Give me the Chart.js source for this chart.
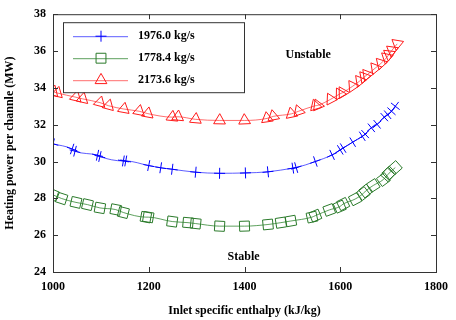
<!DOCTYPE html>
<html>
<head>
<meta charset="utf-8">
<script src="https://cdn.jsdelivr.net/npm/chart.js@4/dist/chart.umd.min.js"></script>
<style>
  html, body { margin: 0; padding: 0; background: #fff; }
  #wrap { width: 456px; height: 320px; }
</style>
</head>
<body>
<div id="wrap"><canvas id="chart"></canvas></div>
<script>
// Series data (inlet enthalpy kJ/kg, heating power MW)
const labels = ['1976.0 kg/s', '1778.4 kg/s', '2173.6 kg/s'];

const blueH = [1000, 1040, 1046, 1093, 1098, 1147, 1152, 1200, 1225, 1249, 1298, 1348, 1402, 1449, 1501, 1508, 1548, 1583, 1600, 1606, 1626, 1646, 1652, 1665, 1677, 1692, 1699, 1707, 1715];
const blueP = [30.96, 30.68, 30.56, 30.34, 30.27, 30.03, 30.03, 29.78, 29.66, 29.58, 29.42, 29.36, 29.38, 29.44, 29.64, 29.67, 30.0, 30.36, 30.63, 30.73, 31.05, 31.37, 31.49, 31.83, 32.02, 32.41, 32.54, 32.73, 33.0];

const greenH = [1000, 1018, 1048, 1072, 1098, 1131, 1147, 1194, 1199, 1249, 1282, 1298, 1348, 1400, 1449, 1476, 1497, 1541, 1548, 1577, 1599, 1606, 1631, 1648, 1653, 1669, 1690, 1699, 1702, 1715];
const greenP = [28.19, 27.99, 27.78, 27.66, 27.48, 27.39, 27.23, 26.98, 26.98, 26.74, 26.68, 26.63, 26.49, 26.49, 26.58, 26.68, 26.77, 26.98, 27.06, 27.37, 27.55, 27.69, 27.96, 28.26, 28.4, 28.7, 29.02, 29.28, 29.37, 29.67];

const redH = [1000, 1009, 1048, 1062, 1098, 1116, 1148, 1180, 1198, 1249, 1261, 1298, 1348, 1400, 1447, 1460, 1498, 1513, 1548, 1553, 1580, 1599, 1605, 1626, 1641, 1650, 1656, 1673, 1685, 1697, 1702, 1708, 1719];
const redP = [33.79, 33.72, 33.49, 33.4, 33.2, 33.03, 32.85, 32.73, 32.6, 32.41, 32.43, 32.29, 32.23, 32.23, 32.34, 32.45, 32.59, 32.73, 33.03, 33.05, 33.38, 33.67, 33.74, 34.09, 34.38, 34.59, 34.71, 35.07, 35.33, 35.65, 35.82, 36.04, 36.39];

const xTicks = [1000, 1200, 1400, 1600, 1800];
const yTicks = [24, 26, 28, 30, 32, 34, 36, 38];

const notes = ['Unstable', 'Stable'];
const noteH = [1533, 1398];
const noteP = [35.77, 24.84];

const FONT = 'Liberation Serif, Times New Roman, serif';

const toPoints = (xs, ys) => xs.map((x, i) => ({ x, y: ys[i] }));

// rotate markers so they follow the curve
const alongCurve = ctx => {
  const chart = ctx.chart;
  const data = ctx.dataset.data;
  const i = ctx.dataIndex;
  const sx = chart.scales.x, sy = chart.scales.y;
  if (!sx || !sy || !data || i == null) return 0;
  const a = data[Math.max(0, i - 1)];
  const b = data[Math.min(data.length - 1, i + 1)];
  const dx = sx.getPixelForValue(b.x) - sx.getPixelForValue(a.x);
  const dy = sy.getPixelForValue(b.y) - sy.getPixelForValue(a.y);
  if (!isFinite(dx) || !isFinite(dy) || (dx === 0 && dy === 0)) return 0;
  return Math.atan2(dy, dx) * 180 / Math.PI;
};

const series = (label, xs, ys, line, mark, style, radius) => ({
  label,
  data: toPoints(xs, ys),
  borderColor: line,
  borderWidth: 1,
  pointStyle: style,
  pointRadius: radius,
  pointBorderColor: mark,
  pointBackgroundColor: 'rgba(0,0,0,0)',
  pointBorderWidth: 1,
  pointRotation: alongCurve,
  cubicInterpolationMode: 'monotone',
  fill: false
});

// frame, inward ticks, legend box, notes
const decor = {
  id: 'decor',
  afterDraw(chart) {
    const { ctx, chartArea: a, scales } = chart;
    ctx.save();
    ctx.strokeStyle = '#333';
    ctx.lineWidth = 1;
    ctx.strokeRect(a.left + 0.5, a.top + 0.5, a.right - a.left, a.bottom - a.top);
    ctx.beginPath();
    xTicks.forEach(v => {
      const px = Math.round(scales.x.getPixelForValue(v)) + 0.5;
      ctx.moveTo(px, a.bottom); ctx.lineTo(px, a.bottom - 5);
      ctx.moveTo(px, a.top); ctx.lineTo(px, a.top + 5);
    });
    yTicks.forEach(v => {
      const py = Math.round(scales.y.getPixelForValue(v)) + 0.5;
      ctx.moveTo(a.left, py); ctx.lineTo(a.left + 5, py);
      ctx.moveTo(a.right, py); ctx.lineTo(a.right - 5, py);
    });
    ctx.stroke();

    // legend
    const lx = a.left + 10, ly = a.top + 8, lw = 181, lh = 70;
    ctx.fillStyle = '#fff';
    ctx.fillRect(lx, ly, lw, lh);
    ctx.strokeStyle = '#333';
    ctx.strokeRect(lx + 0.5, ly + 0.5, lw, lh);
    ctx.font = 'bold 12px ' + FONT;
    ctx.textBaseline = 'middle';
    ctx.textAlign = 'left';
    chart.data.datasets.forEach((ds, i) => {
      const y = ly + 14 + i * 22;
      ctx.strokeStyle = ds.borderColor;
      ctx.lineWidth = 1;
      ctx.beginPath();
      ctx.moveTo(lx + 10, y + 0.5); ctx.lineTo(lx + 65, y + 0.5);
      ctx.stroke();
      ctx.strokeStyle = ds.pointBorderColor;
      ctx.fillStyle = 'rgba(0,0,0,0)';
      Chart.helpers.drawPoint(ctx, { pointStyle: ds.pointStyle, radius: ds.pointRadius, rotation: 0, borderWidth: 1 }, lx + 38, y);
      ctx.fillStyle = '#000';
      ctx.fillText(ds.label, lx + 75, y);
    });

    // region notes
    ctx.textAlign = 'center';
    ctx.fillStyle = '#000';
    notes.forEach((t, i) => {
      ctx.fillText(t, scales.x.getPixelForValue(noteH[i]), scales.y.getPixelForValue(noteP[i]));
    });
    ctx.restore();
  }
};

const tickFont = { family: FONT, size: 12, weight: 'bold' };

new Chart(document.getElementById('chart'), {
  type: 'line',
  data: {
    datasets: [
      series(labels[0], blueH, blueP, 'rgba(40,40,255,0.75)', '#0000ff', 'cross', 5.5),
      series(labels[1], greenH, greenP, 'rgba(40,130,40,0.75)', '#2a7a2a', 'rect', 7),
      series(labels[2], redH, redP, 'rgba(255,50,50,0.7)', '#ff1a1a', 'triangle', 6.8)
    ]
  },
  options: {
    responsive: true,
    maintainAspectRatio: false,
    animation: false,
    layout: { padding: { top: 9, right: 19, left: 0, bottom: 0 } },
    plugins: {
      legend: { display: false },
      tooltip: { enabled: false }
    },
    scales: {
      x: {
        type: 'linear',
        min: 1000,
        max: 1800,
        afterBuildTicks: s => { s.ticks = xTicks.map(v => ({ value: v })); },
        afterFit: s => { s.height = 48; },
        grid: { display: false, drawTicks: false, tickLength: 0 },
        border: { display: false },
        ticks: { color: '#000', font: tickFont, padding: 8, maxRotation: 0, callback: v => String(v) },
        title: { display: true, text: 'Inlet specific enthalpy (kJ/kg)', color: '#000', font: tickFont, padding: { top: 0, bottom: 2 } }
      },
      y: {
        type: 'linear',
        min: 24,
        max: 38,
        afterBuildTicks: s => { s.ticks = yTicks.map(v => ({ value: v })); },
        afterFit: s => { s.width = 53; },
        grid: { display: false, drawTicks: false, tickLength: 0 },
        border: { display: false },
        ticks: { color: '#000', font: tickFont, padding: 7, callback: v => String(v) },
        title: { display: true, text: 'Heating power per channle (MW)', color: '#000', font: tickFont, padding: { top: 3, bottom: 0 } }
      }
    }
  },
  plugins: [decor]
});
</script>
</body>
</html>
